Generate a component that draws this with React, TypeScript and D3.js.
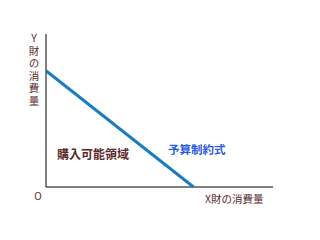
import React from "react";
import * as d3 from "d3";

const axisMax = [10, 10];
const budgetIntercepts = [6.5, 7.6]; // x-intercept, y-intercept
const yLabel = "Y財の消費量";
const xLabel = "X財の消費量";
const originLabel = "O";
const regionLabel = "購入可能領域";
const lineLabel = "予算制約式";

export default function App() {
  const W = 320, H = 240;
  const x = d3.scaleLinear().domain([0, axisMax[0]]).range([46, 273]);
  const y = d3.scaleLinear().domain([0, axisMax[1]]).range([187, 34]);
  const pts: [number, number][] = [[0, budgetIntercepts[1]], [budgetIntercepts[0], 0]];
  const line = d3.line<[number, number]>().x(d => x(d[0])).y(d => y(d[1]));
  const font = "'Noto Sans CJK JP', sans-serif";
  const brown = "#5a2a2a";
  return (
    <svg width={W} height={H} style={{ position: "absolute", left: 0, top: 0, background: "#fff" }}>
      <line x1={x(0)} y1={y(0)} x2={x(0)} y2={y(axisMax[1])} stroke="#000" strokeWidth={1} />
      <line x1={x(0)} y1={y(0)} x2={x(axisMax[0])} y2={y(0)} stroke="#000" strokeWidth={1} />
      <path d={line(pts) || ""} stroke="#1a7dbf" strokeWidth={3} fill="none" />
      <text x={34} y={33} fontFamily={font} fontSize={10.5} fill={brown} letterSpacing={2}
        style={{ writingMode: "vertical-rl", textOrientation: "upright" } as any}>{yLabel}</text>
      <text x={38} y={200} textAnchor="middle" fontFamily={font} fontSize={10} fill={brown}>{originLabel}</text>
      <text x={205} y={203} fontFamily={font} fontSize={10.5} fill={brown}>{xLabel}</text>
      <text x={57} y={159} fontFamily={font} fontSize={12} fontWeight="bold" fill={brown}>{regionLabel}</text>
      <text x={168} y={154} fontFamily={font} fontSize={11.5} fontWeight="bold" fill="#2a5be0">{lineLabel}</text>
    </svg>
  );
}
